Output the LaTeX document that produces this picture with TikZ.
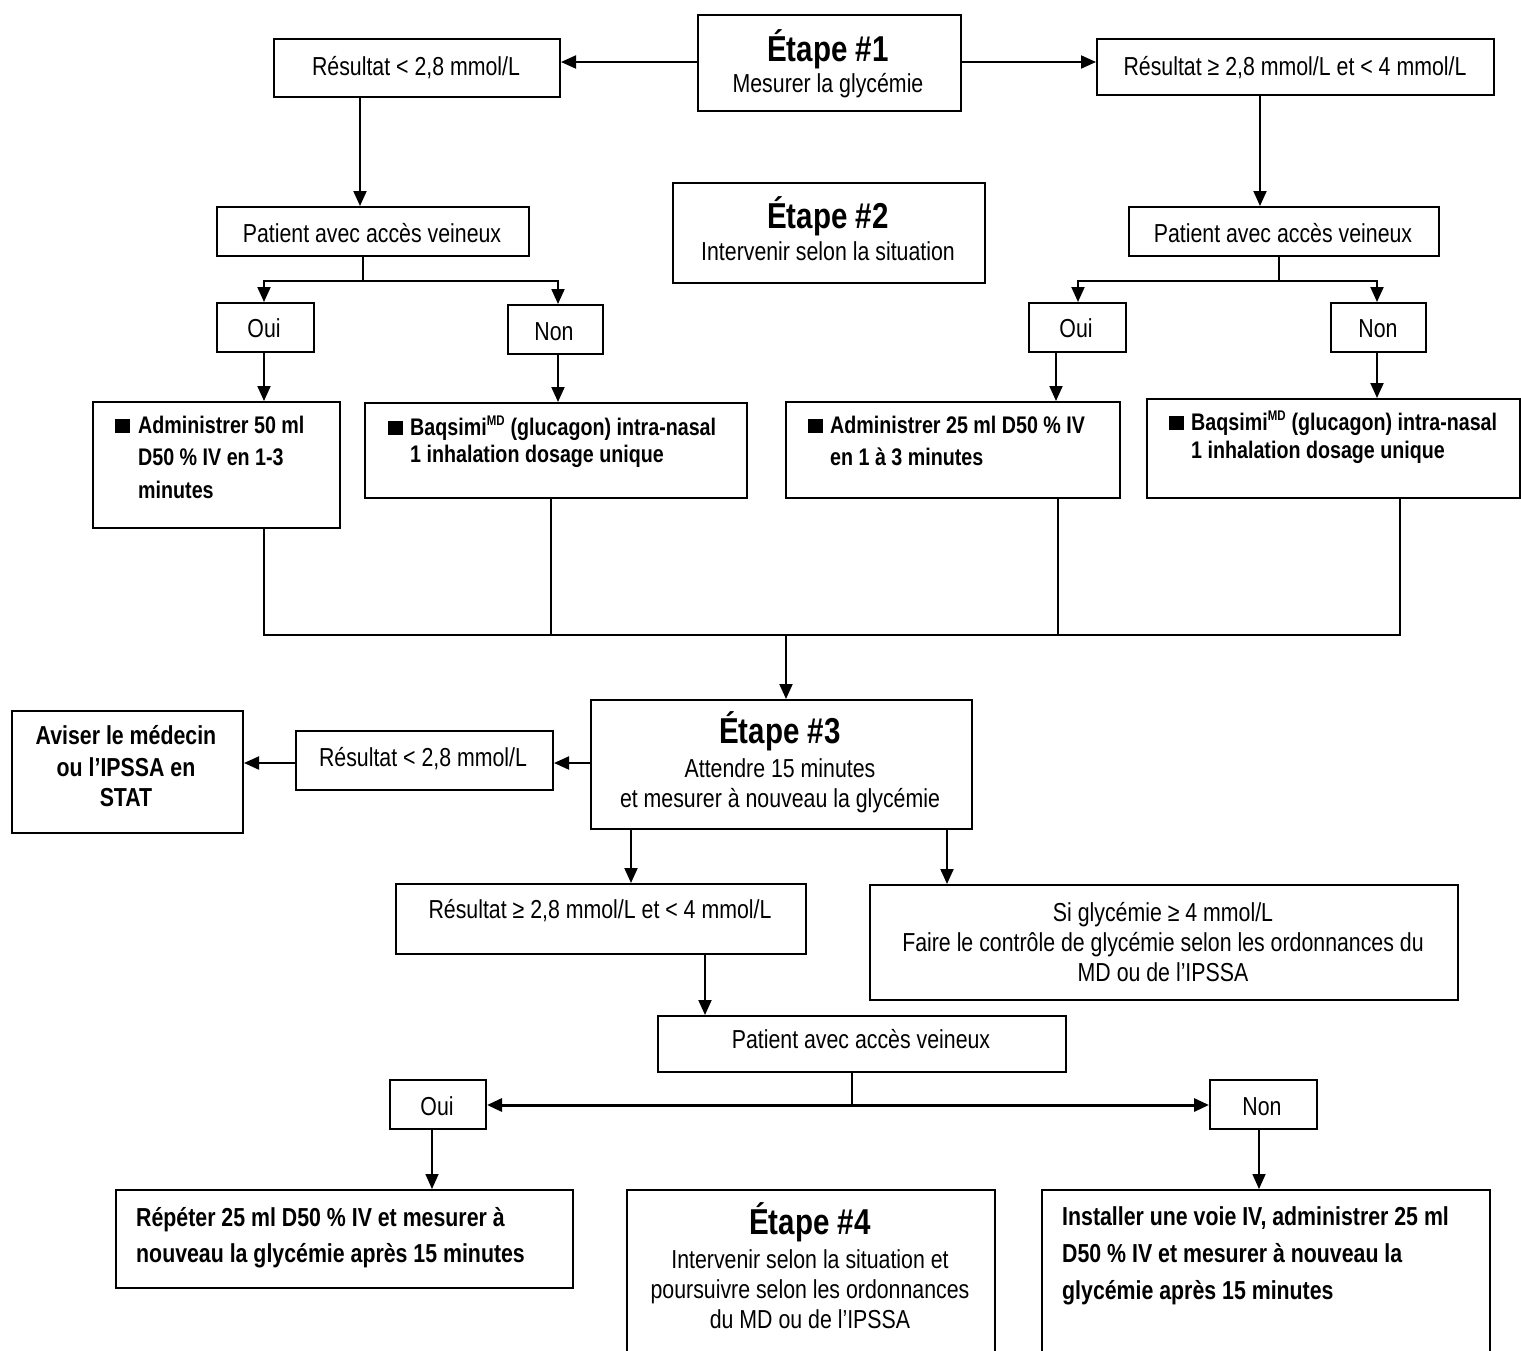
\documentclass[tikz,border=0pt]{standalone}
\usepackage{fontspec}
\setmainfont{Liberation Sans}[FakeStretch=0.82]
\usetikzlibrary{arrows.meta}
\newcommand\bx[5]{\node[box, minimum width=#4pt, minimum height=#5pt] (#1) at (#2,#3) {};}
\newcommand\blt[1]{\makebox[#1pt][l]{\rule{15pt}{14pt}}}
\begin{document}
\begin{tikzpicture}[x=1pt,y=-1pt,
  box/.style={draw, line width=2pt, inner sep=0pt, anchor=north west},
  con/.style={line width=2pt},
  thin/.style={line width=1.4pt},
  arr/.style={line width=2pt, -{Triangle[length=15pt,width=13pt]}},
  tx/.style={anchor=base, inner sep=0pt, font=\fontsize{26}{30}\selectfont},
  bl/.style={anchor=base west, inner sep=0pt, font=\bfseries\fontsize{24}{28}\selectfont},
  bb/.style={anchor=base west, inner sep=0pt, font=\bfseries\fontsize{26}{30}\selectfont},
  bc/.style={anchor=base, inner sep=0pt, font=\bfseries\fontsize{26}{30}\selectfont},
  head/.style={anchor=base, inner sep=0pt, font=\bfseries\fontsize{36}{40}\selectfont}]
\useasboundingbox (0,0) rectangle (1521,1350);
\fill[white] (0,0) rectangle (1521,1350);
\clip (0,0) rectangle (1521,1350);
% boxes
\bx{e1}{697}{14}{263}{96}
\bx{rl}{273}{38}{286}{58}
\bx{rr}{1096}{38}{397}{56}
\bx{pl}{216}{206}{312}{49}
\bx{pr}{1128}{206}{310}{49}
\bx{e2}{672}{182}{312}{100}
\bx{ol}{216}{302}{97}{49}
\bx{nl}{507}{304}{95}{49}
\bx{or}{1028}{302}{97}{49}
\bx{nr}{1330}{302}{95}{49}
\bx{al}{92}{401}{247}{126}
\bx{bl}{364}{402}{382}{95}
\bx{ar}{785}{401}{334}{96}
\bx{br}{1146}{398}{373}{99}
\bx{e3}{590}{699}{381}{129}
\bx{r3}{295}{730}{257}{59}
\bx{av}{11}{710}{231}{122}
\bx{r4}{395}{883}{410}{70}
\bx{sg}{869}{884}{588}{115}
\bx{p3}{657}{1015}{408}{56}
\bx{o3}{389}{1079}{96}{49}
\bx{n3}{1209}{1079}{107}{49}
\bx{rp}{115}{1189}{457}{98}
\bx{e4}{626}{1189}{368}{211}
\bx{in}{1041}{1189}{448}{211}
% texts
\node[head] (t1) at (828,61) {Étape \#1};
\node[tx] (t2) at (828,92) {Mesurer la glycémie};
\node[tx] (t3) at (416,75) {Résultat < 2,8 mmol/L};
\node[tx] (t4) at (1295,75) {Résultat ≥ 2,8 mmol/L et < 4 mmol/L};
\node[tx] (t5) at (372,242) {Patient avec accès veineux};
\node[tx] (t6) at (1283,242) {Patient avec accès veineux};
\node[head] (t7) at (828,228) {Étape \#2};
\node[tx] (t8) at (828,260) {Intervenir selon la situation};
\node[tx] (t9) at (264,337) {Oui};
\node[tx] (t10) at (554,340) {Non};
\node[tx] (t11) at (1076,337) {Oui};
\node[tx] (t12) at (1378,337) {Non};
\node[bl] (t13) at (115,433) {\blt{23}Administrer 50 ml};
\node[bl] (t14) at (138,465) {D50 \% IV en 1-3};
\node[bl] (t15) at (138,498) {minutes};
\node[bl] (t16) at (388,435) {\blt{22}Baqsimi\textsuperscript{\fontsize{14}{14}\selectfont MD} (glucagon) intra-nasal};
\node[bl] (t17) at (410,462) {1 inhalation dosage unique};
\node[bl] (t18) at (808,433) {\blt{22}Administrer 25 ml D50 \% IV};
\node[bl] (t19) at (830,465) {en 1 à 3 minutes};
\node[bl] (t20) at (1169,430) {\blt{22}Baqsimi\textsuperscript{\fontsize{14}{14}\selectfont MD} (glucagon) intra-nasal};
\node[bl] (t21) at (1191,458) {1 inhalation dosage unique};
\node[head] (t22) at (780,743) {Étape \#3};
\node[tx] (t23) at (780,777) {Attendre 15 minutes};
\node[tx] (t24) at (780,807) {et mesurer à nouveau la glycémie};
\node[tx] (t25) at (423,766) {Résultat < 2,8 mmol/L};
\node[bc] (t26) at (126,744) {Aviser le médecin};
\node[bc] (t27) at (126,776) {ou l’IPSSA en};
\node[bc] (t28) at (126,806) {STAT};
\node[tx] (t29) at (600,918) {Résultat ≥ 2,8 mmol/L et < 4 mmol/L};
\node[tx] (t30) at (1163,921) {Si glycémie ≥ 4 mmol/L};
\node[tx] (t31) at (1163,951) {Faire le contrôle de glycémie selon les ordonnances du};
\node[tx] (t32) at (1163,981) {MD ou de l’IPSSA};
\node[tx] (t33) at (861,1048) {Patient avec accès veineux};
\node[tx] (t34) at (437,1115) {Oui};
\node[tx] (t35) at (1262,1115) {Non};
\node[bb] (t36) at (136,1226) {Répéter 25 ml D50 \% IV et mesurer à};
\node[bb] (t37) at (136,1262) {nouveau la glycémie après 15 minutes};
\node[head] (t38) at (810,1234) {Étape \#4};
\node[tx] (t39) at (810,1268) {Intervenir selon la situation et};
\node[tx] (t40) at (810,1298) {poursuivre selon les ordonnances};
\node[tx] (t41) at (810,1328) {du MD ou de l’IPSSA};
\node[bb] (t42) at (1062,1225) {Installer une voie IV, administrer 25 ml};
\node[bb] (t43) at (1062,1262) {D50 \% IV et mesurer à nouveau la};
\node[bb] (t44) at (1062,1299) {glycémie après 15 minutes};
% connectors
\draw[arr] (e1.west |- 0,62) -- (rl.east |- 0,62);
\draw[arr] (e1.east |- 0,62) -- (rr.west |- 0,62);
\draw[arr] (rl.south -| 360,0) -- (pl.north -| 360,0);
\draw[arr] (rr.south -| 1260,0) -- (pr.north -| 1260,0);
\coordinate (jl) at (363,281);
\draw[thin] (pl.south -| jl) -- (jl);
\draw[arr] (jl) -| (ol.north -| 264,0);
\draw[arr] (jl) -| (nl.north -| 558,0);
\coordinate (jr) at (1279,281);
\draw[thin] (pr.south -| jr) -- (jr);
\draw[arr] (jr) -| (or.north -| 1078,0);
\draw[arr] (jr) -| (nr.north -| 1377,0);
\draw[arr] (ol.south -| 264,0) -- (al.north -| 264,0);
\draw[arr] (nl.south -| 558,0) -- (bl.north -| 558,0);
\draw[arr] (or.south -| 1056,0) -- (ar.north -| 1056,0);
\draw[arr] (nr.south -| 1377,0) -- (br.north -| 1377,0);
\coordinate (ja) at (264,635);
\coordinate (jb) at (1400,635);
\coordinate (jc) at (786,635);
\draw[thin] (al.south -| ja) -- (ja) -- (jb) -- (br.south -| jb);
\draw[thin] (bl.south -| 551,0) -- (551,635);
\draw[thin] (ar.south -| 1058,0) -- (1058,635);
\draw[arr] (jc) -- (e3.north -| jc);
\draw[arr] (e3.west |- 0,763) -- (r3.east |- 0,763);
\draw[arr] (r3.west |- 0,763) -- (av.east |- 0,763);
\draw[arr] (e3.south -| 631,0) -- (r4.north -| 631,0);
\draw[arr] (e3.south -| 947,0) -- (sg.north -| 947,0);
\draw[arr] (r4.south -| 705,0) -- (p3.north -| 705,0);
\coordinate (jp) at (852,1105);
\draw[thin] (p3.south -| jp) -- (jp);
\draw[line width=3pt, {Triangle[length=15pt,width=13pt]}-{Triangle[length=15pt,width=13pt]}] (o3.east |- jp) -- (n3.west |- jp);
\draw[arr, line width=1.6pt] (o3.south -| 432,0) -- (rp.north -| 432,0);
\draw[arr, line width=1.6pt] (n3.south -| 1259,0) -- (in.north -| 1259,0);
\end{tikzpicture}
\end{document}
